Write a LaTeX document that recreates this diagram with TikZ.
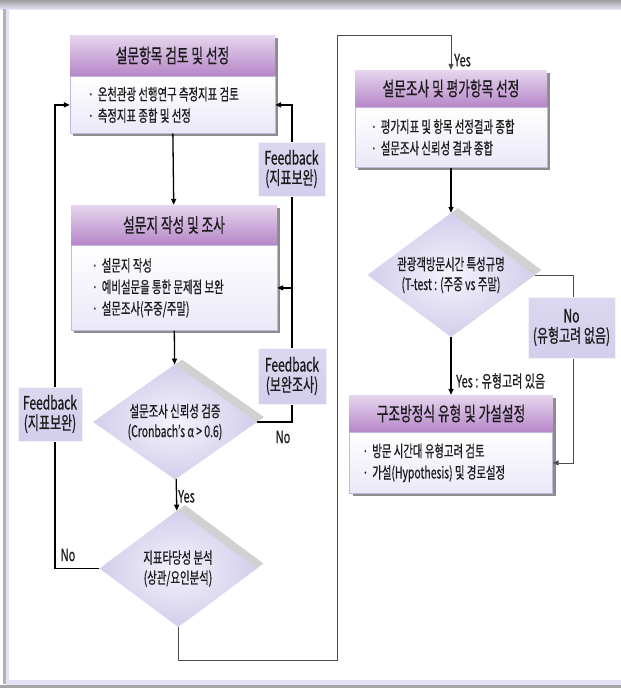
\documentclass[tikz,border=0pt]{standalone}
\usepackage{fontspec}
\setmainfont{Noto Sans CJK KR}[FakeStretch=0.65,FakeBold=0.6]
\usepackage{xcolor}
\usetikzlibrary{positioning,arrows.meta,calc,shapes.geometric,shadows}

\definecolor{hdrTop}{RGB}{230,214,238}
\definecolor{hdrBot}{RGB}{182,134,200}
\definecolor{bodyLine}{RGB}{192,184,222}
\definecolor{bodyBot}{RGB}{234,232,247}
\definecolor{lav}{RGB}{210,206,236}
\definecolor{lavLight}{RGB}{244,243,252}
\definecolor{ink}{RGB}{28,28,28}

\begin{document}
\begin{tikzpicture}[
  x=1pt, y=-1pt,
  >={Triangle[length=6pt,width=5pt]},
  stepHead/.style={rectangle, top color=hdrTop, bottom color=hdrBot,
                   inner sep=0pt, text=ink, font=\fontsize{19.5}{20}\selectfont,
                   drop shadow={shadow xshift=3pt, shadow yshift=-3pt,
                                fill=black!45, opacity=1}},
  stepBody/.style={rectangle, draw=bodyLine, top color=white,
                   bottom color=bodyBot, align=flush left, inner ysep=0pt,
                   text=ink, font=\fontsize{16}{21.5}\selectfont,
                   drop shadow={shadow xshift=3pt, shadow yshift=-3pt,
                                fill=black!45, opacity=1}},
  decision/.style={diamond, inner sep=0pt, inner color=lavLight,
                   outer color=lav,
                   general shadow={fill=black!18, shadow xshift=7pt,
                                   shadow yshift=5pt}},
  dText/.style={align=center, inner sep=0pt, text=ink,
                font=\fontsize{16}{20}\selectfont},
  fbBox/.style={rectangle, top color=lav!80, bottom color=lav,
                draw=lavLight, align=center, inner sep=0pt, text=ink,
                font=\fontsize{18.5}{20}\selectfont},
  lbl/.style={inner sep=1pt, text=ink, font=\fontsize{17}{18}\selectfont},
  link/.style={draw=black, line width=1.3pt},
  thinLink/.style={draw=black!70, line width=0.8pt}
]
  \useasboundingbox (0,0) rectangle (621,688);

  % frame
  \fill[top color=black!38, bottom color=lav!60] (0,0) rectangle (621,9);
  \fill[black!30] (3,9) rectangle (6,684);
  \fill[lav!60] (6,9) rectangle (9,681);
  \fill[lav!60] (6,680) rectangle (621,685);
  \fill[black!35] (0,685) rectangle (621,688);

  % left column
  \node[stepHead, minimum width=205pt, minimum height=41pt] (review)
    at (172.5,55.5) {설문항목 검토 및 선정};
  \node[stepBody, below=0pt of review, minimum height=57pt,
        text width=169pt, inner xsep=18pt] (reviewBody) {%
    ·\hspace{4pt}온천관광 선행연구 측정지표 검토\\
    ·\hspace{4pt}측정지표 종합 및 선정};

  \node[stepHead, minimum width=206pt, minimum height=40pt] (survey)
    at (174,225) {설문지 작성 및 조사};
  \node[stepBody, below=0pt of survey, minimum height=85pt,
        text width=164pt, inner xsep=21pt] (surveyBody) {%
    ·\hspace{4pt}설문지 작성\\
    ·\hspace{4pt}예비설문을 통한 문제점 보완\\
    ·\hspace{4pt}설문조사(주중/주말)};

  \node[decision, minimum width=164pt, minimum height=115pt] (reliab)
    at (175,422) {};
  \node[dText] (reliabTxt) at (reliab) {설문조사 신뢰성 검증\\
    (Cronbach's α > 0.6)};

  \node[decision, minimum width=157pt, minimum height=117pt] (valid)
    at (178,568.5) {};
  \node[dText] (validTxt) at (valid) {지표타당성 분석\\(상관/요인분석)};

  % right column
  \node[stepHead, minimum width=192pt, minimum height=37pt] (result)
    at (451,88.5) {설문조사 및 평가항목 선정};
  \node[stepBody, below=0pt of result, minimum height=60pt,
        text width=160pt, inner xsep=16pt] (resultBody) {%
    ·\hspace{4pt}평가지표 및 항목 선정결과 종합\\
    ·\hspace{4pt}설문조사 신뢰성 결과 종합};

  \node[decision, minimum width=167pt, minimum height=124pt] (visit)
    at (451,275) {};
  \node[dText] (visitTxt) at (visit) {관광객방문시간 특성규명\\
    (T-test : (주중 vs 주말)};

  \node[stepHead, minimum width=203pt, minimum height=37pt] (model)
    at (451,413.5) {구조방정식 유형 및 가설설정};
  \node[stepBody, below=0pt of model, minimum height=61pt,
        text width=177pt, inner xsep=13pt] (modelBody) {%
    ·\hspace{4pt}방문 시간대 유형고려 검토\\
    ·\hspace{4pt}가설(Hypothesis) 및 경로설정};

  % rails
  \coordinate (leftRail) at (55,400);
  \coordinate (rightRail) at (292,300);
  \coordinate (loopLow) at (337,660);
  \coordinate (loopTop) at (337,35);
  \coordinate (noRail) at (573,400);

  % connectors
  \draw[link,->] (reviewBody) -- (survey);
  \draw[link,->] (surveyBody) -- (reliab);
  \draw[link,->] (reliab) -- node[lbl, right, pos=0.55] (yesA) {Yes} (valid);
  \draw[link, line width=1.8pt,->] (valid.west) -| (leftRail)
    |- (reviewBody.west);
  \draw[link, line width=1.8pt,->] (reliab.east) -| (rightRail)
    |- (reviewBody.east);
  \draw[link,->] (rightRail |- surveyBody.east) -- (surveyBody.east);
  \draw[thinLink,->] (valid.south) |- (loopLow) -- (loopTop) -| (result.north);
  \draw[link,->] (resultBody) -- (visit);
  \draw[link,->] (visit) -- (model);
  \draw[thinLink] (visit.east) -| (noRail);
  \draw[thinLink,->] (noRail) |- (modelBody.east);

  % labels on the lines
  \node[fbBox, minimum width=64pt, minimum height=54pt] (fbLeft)
    at (50,414) {Feedback\\(지표보완)};
  \node[fbBox, minimum width=67pt, minimum height=54pt] (fbTop)
    at (291.5,169) {Feedback\\(지표보완)};
  \node[fbBox, minimum width=68pt, minimum height=56pt] (fbLow)
    at (292,376) {Feedback\\(보완조사)};
  \node[fbBox, minimum width=87pt, minimum height=61pt] (noBox)
    at (571.5,327.5) {No\\(유형고려 없음)};

  \node[lbl] (noA) at (283,437) {No};
  \node[lbl] (noB) at (68,555) {No};
  \node[lbl, anchor=south west] (yesTop) at ([xshift=2pt,yshift=2pt]result.north)
    {Yes};
  \node[lbl, anchor=west] (yesB) at (455,381) {Yes : 유형고려 있음};
\end{tikzpicture}
\end{document}
